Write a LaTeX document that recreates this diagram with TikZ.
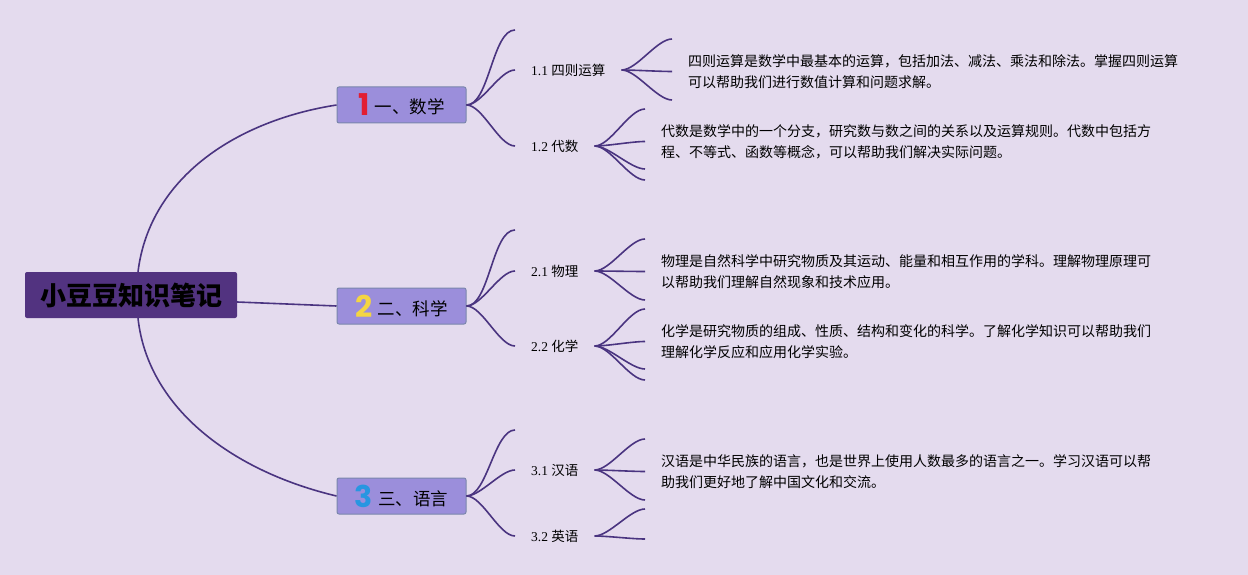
\documentclass[tikz,border=0pt]{standalone}
\usepackage{fontspec}
\setmainfont{Liberation Serif}
\newfontfamily\cjk{Noto Sans CJK SC}
\newfontfamily\numfont{Poppins}
\usepackage{xcolor}
\usepackage{tikz}
\usetikzlibrary{positioning,calc}

\definecolor{bgcol}{RGB}{228,219,238}
\definecolor{rootfill}{RGB}{82,51,128}
\definecolor{topicfill}{RGB}{155,142,219}
\definecolor{topicline}{RGB}{122,134,172}
\definecolor{linkcol}{RGB}{74,52,128}
\definecolor{numred}{RGB}{226,30,50}
\definecolor{numyellow}{RGB}{244,213,66}
\definecolor{numblue}{RGB}{40,150,225}

\newcommand{\topicnum}[2]{{\numfont\bfseries\fontsize{30}{30}\selectfont\color{#1}#2}\hspace{5pt}}

\begin{document}
\begin{tikzpicture}[
    x=1pt, y=-1pt,
    rootbox/.style={draw=none, fill=rootfill, rounded corners=2pt, minimum width=212pt, minimum height=46pt, inner sep=0pt, font=\cjk\bfseries\fontsize{26}{30}\selectfont, text=black},
    topic/.style={draw=topicline, line width=1pt, fill=topicfill, rounded corners=2pt, minimum width=129pt, minimum height=36pt, inner sep=0pt, font=\cjk\fontsize{17.5}{20}\selectfont},
    sub/.style={anchor=west, inner xsep=16pt, inner ysep=2pt, font=\fontsize{13.5}{16}\selectfont},
    note/.style={anchor=west, inner xsep=16pt, inner ysep=0pt, align=left, font=\cjk\fontsize{14}{21}\selectfont},
    link/.style={draw=linkcol, line width=1.6pt},
    fan/.style={draw=linkcol, line width=1.6pt, out=0, in=180, looseness=0.65}
]
\fill[bgcol] (0,0) rectangle (1248,575);
\useasboundingbox (0,0) rectangle (1248,575);

% root and main topics
\node[rootbox] (root) at (131,295) {小豆豆知识笔记};
\node[topic] (b1) at (401.5,105) {\topicnum{numred}{1}\raisebox{2pt}{一、数学}};
\node[topic] (b2) at (401.5,306) {\topicnum{numyellow}{2}\raisebox{2pt}{二、科学}};
\node[topic] (b3) at (401.5,496) {\topicnum{numblue}{3}\raisebox{2pt}{三、语言}};

\draw[link] ([xshift=7pt]root.north) .. controls (150,175) and (240,120) .. (b1.west);
\draw[link] ([yshift=-7pt]root.east) -- (b2.west);
\draw[link] ([xshift=7pt]root.south) .. controls (148,410) and (235,472) .. (b3.west);

% sub topics
\node[sub] (s11) at (515,70) {1.1 {\cjk 四则运算}};
\node[sub] (s12) at (515,146) {1.2 {\cjk 代数}};
\node[sub] (s21) at (515,271) {2.1 {\cjk 物理}};
\node[sub] (s22) at (515,346) {2.2 {\cjk 化学}};
\node[sub] (s31) at (515,470) {3.1 {\cjk 汉语}};
\node[sub] (s32) at (515,536) {3.2 {\cjk 英语}};

% notes
\node[note] (n11) at (672,71.5) {四则运算是数学中最基本的运算，包括加法、减法、乘法和除法。掌握四则运算\\可以帮助我们进行数值计算和问题求解。};
\node[note] (n12) at (645,141.5) {代数是数学中的一个分支，研究数与数之间的关系以及运算规则。代数中包括方\\程、不等式、函数等概念，可以帮助我们解决实际问题。};
\node[note] (n21) at (645,271.5) {物理是自然科学中研究物质及其运动、能量和相互作用的学科。理解物理原理可\\以帮助我们理解自然现象和技术应用。};
\node[note] (n22) at (645,341.5) {化学是研究物质的组成、性质、结构和变化的科学。了解化学知识可以帮助我们\\理解化学反应和应用化学实验。};
\node[note] (n31) at (645,471.5) {汉语是中华民族的语言，也是世界上使用人数最多的语言之一。学习汉语可以帮\\助我们更好地了解中国文化和交流。};

% free ends of the fans
\coordinate (c1a) at (515,30);
\coordinate (c2a) at (515,230);
\coordinate (c3a) at (515,430);
\coordinate (c11a) at (672,39);
\coordinate (c11c) at (672,100);
\coordinate (c12a) at (645,109);
\coordinate (c12c) at (645,169);
\coordinate (c12d) at (645,180);
\coordinate (c21a) at (645,239);
\coordinate (c21c) at (645,300);
\coordinate (c22a) at (645,309);
\coordinate (c22c) at (645,369);
\coordinate (c22d) at (645,380);
\coordinate (c31a) at (645,439);
\coordinate (c31c) at (645,500);
\coordinate (c32a) at (645,509);
\coordinate (c32b) at (645,539);

\draw[fan] (b1.east) to (c1a);
\draw[fan] (b1.east) to (s11.west);
\draw[fan] (b1.east) to (s12.west);
\draw[fan] (b2.east) to (c2a);
\draw[fan] (b2.east) to (s21.west);
\draw[fan] (b2.east) to (s22.west);
\draw[fan] (b3.east) to (c3a);
\draw[fan] (b3.east) to (s31.west);
\draw[fan] (b3.east) to (s32.west);

\draw[fan] (s11.east) to (c11a);
\draw[fan] (s11.east) to (n11.west);
\draw[fan] (s11.east) to (c11c);
\draw[fan] (s12.east) to (c12a);
\draw[fan] (s12.east) to (n12.west);
\draw[fan] (s12.east) to (c12c);
\draw[fan] (s12.east) to (c12d);
\draw[fan] (s21.east) to (c21a);
\draw[fan] (s21.east) to (n21.west);
\draw[fan] (s21.east) to (c21c);
\draw[fan] (s22.east) to (c22a);
\draw[fan] (s22.east) to (n22.west);
\draw[fan] (s22.east) to (c22c);
\draw[fan] (s22.east) to (c22d);
\draw[fan] (s31.east) to (c31a);
\draw[fan] (s31.east) to (n31.west);
\draw[fan] (s31.east) to (c31c);
\draw[fan] (s32.east) to (c32a);
\draw[fan] (s32.east) to (c32b);
\end{tikzpicture}
\end{document}
